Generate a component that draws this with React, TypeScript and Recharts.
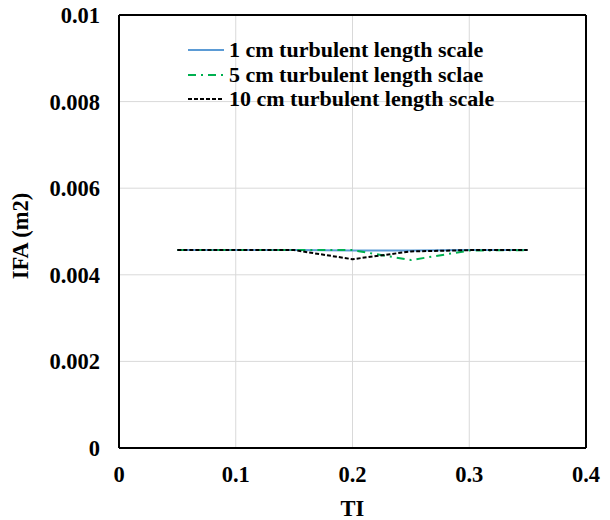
import React from 'react';
import { LineChart, Line, XAxis, YAxis, CartesianGrid, Legend, ReferenceLine } from 'recharts';

const tiValues = [0.05, 0.1, 0.15, 0.2, 0.25, 0.3, 0.35];
const ifa1cm = [0.00457, 0.00457, 0.00457, 0.00456, 0.00456, 0.00457, 0.00457];
const ifa5cm = [0.00457, 0.00457, 0.00457, 0.00457, 0.00434, 0.00456, 0.00457];
const ifa10cm = [0.00457, 0.00457, 0.00457, 0.00436, 0.00454, 0.00457, 0.00457];
const xTicks = [0, 0.1, 0.2, 0.3, 0.4];
const yTicks = [0, 0.002, 0.004, 0.006, 0.008, 0.01];
const seriesNames = ['1 cm turbulent length scale', '5 cm turbulent length sclae', '10 cm turbulent length scale'];

const data = tiValues.map((ti, i) => ({ ti, s1: ifa1cm[i], s5: ifa5cm[i], s10: ifa10cm[i] }));

const FONT = '"Liberation Serif", "Times New Roman", serif';
const tickStyle = { fontFamily: FONT, fontWeight: 700, fontSize: 22.5, fill: '#000' };

const series = [
  { key: 's1', name: seriesNames[0], color: '#5B9BD5', dash: undefined as string | undefined },
  { key: 's5', name: seriesNames[1], color: '#00B050', dash: '8 5 2 5' },
  { key: 's10', name: seriesNames[2], color: '#000000', dash: '4 2' },
];

const LegendContent = () => (
  <div style={{ fontFamily: FONT, fontWeight: 700, fontSize: 22, color: '#000', lineHeight: '24.5px' }}>
    {series.map((s) => (
      <div key={s.key} style={{ display: 'flex', alignItems: 'center', height: 24.5, whiteSpace: 'nowrap' }}>
        <svg width={36} height={10} style={{ marginRight: 5 }}>
          <line x1={0} y1={5} x2={36} y2={5} stroke={s.color} strokeWidth={2} strokeDasharray={s.dash} />
        </svg>
        <span>{s.name}</span>
      </div>
    ))}
  </div>
);

export default function App() {
  return (
    <div style={{ position: 'absolute', left: 0, top: 0, background: '#fff' }}>
      <LineChart width={610} height={520} data={data} margin={{ top: 15, right: 24, left: 59, bottom: 32 }}>
        <CartesianGrid stroke="#d9d9d9" strokeWidth={1} />
        <XAxis
          dataKey="ti"
          type="number"
          domain={[0, 0.4]}
          ticks={xTicks}
          tick={tickStyle}
          tickSize={0}
          tickMargin={18}
          axisLine={{ stroke: '#000', strokeWidth: 2 }}
          height={40}
          label={{
            content: (props: any) => {
              const vb = props.viewBox;
              return (
                <text x={vb.x + vb.width / 2} y={516} textAnchor="middle" style={tickStyle}>
                  TI
                </text>
              );
            },
          }}
        />
        <YAxis
          type="number"
          domain={[0, 0.01]}
          ticks={yTicks}
          tick={tickStyle}
          tickSize={0}
          tickMargin={19}
          axisLine={{ stroke: '#000', strokeWidth: 2 }}
          width={60}
          tickFormatter={(v: number) => String(v)}
          label={{
            content: () => {
              const cx = 28;
              const cy = 236;
              return (
                <text x={cx} y={cy} textAnchor="middle" transform={`rotate(-90 ${cx} ${cy})`} style={tickStyle}>
                  IFA (m2)
                </text>
              );
            },
          }}
        />
        <ReferenceLine y={0.01} stroke="#000" strokeWidth={2} ifOverflow="visible" />
        <ReferenceLine x={0.4} stroke="#000" strokeWidth={2} ifOverflow="visible" />
        <Legend
          layout="horizontal"
          verticalAlign="middle"
          align="center"
          content={<LegendContent />}
          wrapperStyle={{ position: 'absolute', left: 188, top: 38, width: 'auto' }}
        />
        {series.map((s) => (
          <Line
            key={s.key}
            dataKey={s.key}
            name={s.name}
            stroke={s.color}
            strokeWidth={2}
            strokeDasharray={s.dash}
            dot={false}
            activeDot={false}
            isAnimationActive={false}
          />
        ))}
      </LineChart>
    </div>
  );
}
